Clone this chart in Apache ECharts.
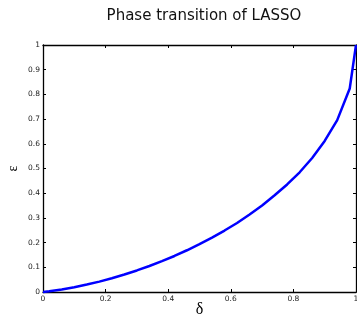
<!DOCTYPE html>
<html>
<head>
<meta charset="utf-8">
<script src="https://cdn.jsdelivr.net/npm/echarts@6/dist/echarts.min.js"></script>
<style>html,body{margin:0;padding:0;background:#fff;}#c{width:357px;height:321px;}</style>
</head>
<body>
<div id="c"></div>
<script>
var deltaValues = [0, 0.02, 0.06, 0.10, 0.14, 0.18, 0.22, 0.26, 0.30, 0.34, 0.38, 0.42, 0.46, 0.50, 0.54, 0.58, 0.62, 0.66, 0.70, 0.74, 0.78, 0.82, 0.86, 0.90, 0.94, 0.98, 1.0];
var epsilonValues = [0, 0.0026, 0.0099, 0.0192, 0.0301, 0.0421, 0.0559, 0.0710, 0.0873, 0.1054, 0.1251, 0.1458, 0.1690, 0.1935, 0.2199, 0.2488, 0.2795, 0.3138, 0.3500, 0.3916, 0.4354, 0.4847, 0.5426, 0.6115, 0.696, 0.824, 1.0];
var xTickLabels = ['0', '0.2', '0.4', '0.6', '0.8', '1'];
var yTickLabels = ['0', '0.1', '0.2', '0.3', '0.4', '0.5', '0.6', '0.7', '0.8', '0.9', '1'];
var titleText = 'Phase transition of LASSO';
var xName = 'δ';
var yName = 'ε';

var points = deltaValues.map(function (d, i) { return [d, epsilonValues[i]]; });

var axisLineStyle = { color: '#000', width: 1.3 };
var tickStyle = { show: true, inside: true, length: 3, lineStyle: { color: '#000', width: 1 } };
var labelFont = { fontFamily: 'DejaVu Sans', fontSize: 7.5, color: '#222' };

var chart = echarts.init(document.getElementById('c'), null, { renderer: 'canvas' });
chart.setOption({
  animation: false,
  backgroundColor: '#fff',
  title: {
    text: titleText,
    left: 199,
    textAlign: 'center',
    top: 4,
    textStyle: { fontFamily: 'DejaVu Sans', fontSize: 15, fontWeight: 'normal', color: '#111' }
  },
  grid: { left: 43, right: 1, top: 45, bottom: 29, containLabel: false, outerBoundsMode: 'none' },
  xAxis: [{
    type: 'value', min: 0, max: 1, interval: 0.2, position: 'bottom',
    name: xName, nameLocation: 'middle', nameGap: 10, nameMoveOverlap: false,
    nameTextStyle: { fontFamily: 'Liberation Serif', fontSize: 16, color: '#000' },
    axisLine: { show: true, onZero: false, lineStyle: axisLineStyle },
    axisTick: tickStyle,
    axisLabel: Object.assign({ margin: 3, formatter: function (v) { var i = Math.round(v / 0.2); return xTickLabels[i]; } }, labelFont),
    splitLine: { show: false }
  }, {
    type: 'value', min: 0, max: 1, interval: 0.2, position: 'top',
    axisLine: { show: true, onZero: false, lineStyle: axisLineStyle },
    axisTick: tickStyle, axisLabel: { show: false }, splitLine: { show: false }
  }],
  yAxis: [{
    type: 'value', min: 0, max: 1, interval: 0.1, position: 'left',
    name: yName, nameLocation: 'middle', nameGap: 23, nameRotate: 90, nameMoveOverlap: false,
    nameTextStyle: { fontFamily: 'Liberation Serif', fontSize: 14, color: '#000' },
    axisLine: { show: true, onZero: false, lineStyle: axisLineStyle },
    axisTick: tickStyle,
    axisLabel: Object.assign({ margin: 3, formatter: function (v) { var i = Math.round(v / 0.1); return yTickLabels[i]; } }, labelFont),
    splitLine: { show: false }
  }, {
    type: 'value', min: 0, max: 1, interval: 0.1, position: 'right',
    axisLine: { show: true, onZero: false, lineStyle: axisLineStyle },
    axisTick: tickStyle, axisLabel: { show: false }, splitLine: { show: false }
  }],
  series: [{
    type: 'line',
    data: points,
    showSymbol: false,
    symbol: 'none',
    clip: false,
    lineStyle: { color: '#0000ff', width: 2.5 }
  }]
});
</script>
</body>
</html>
